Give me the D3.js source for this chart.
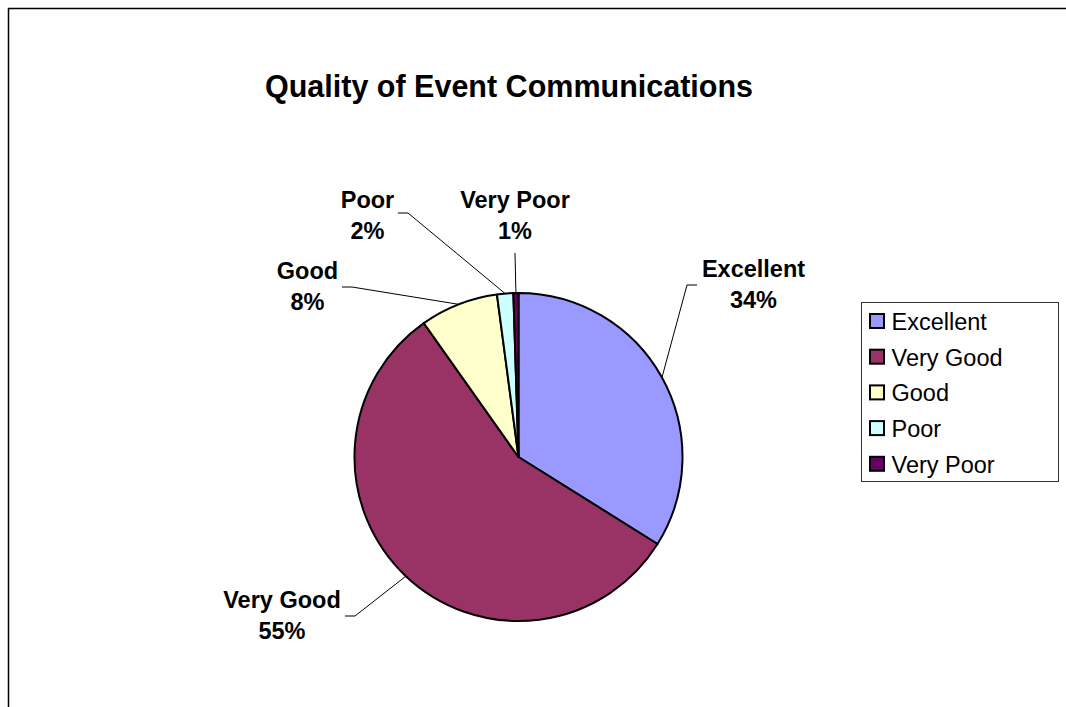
<!DOCTYPE html>
<html>
<head>
<meta charset="utf-8">
<script src="https://cdn.jsdelivr.net/npm/d3@7"></script>
<style>
  html, body { margin: 0; padding: 0; background: #fff; overflow: hidden; }
  #main { width: 1066px; height: 707px; overflow: hidden; }
  #main svg { display: block; }
  text { font-family: "Liberation Sans", Arial, sans-serif; }
</style>
</head>
<body>
<div id="main"></div>
<script>
// data
const categories = ["Excellent", "Very Good", "Good", "Poor", "Very Poor"];
const values = [33.9, 56.3, 7.7, 1.6, 0.5];
const pctLabels = ["34%", "55%", "8%", "2%", "1%"];
const colors = ["#9999FF", "#993366", "#FFFFCC", "#CCFFFF", "#660066"];

// label placement (layout only): text centre, first baseline, leader start, elbow direction
const labelLayout = [
    { x: 753.5, y: 277, lx: 697, ly: 285, dir: -1 },
    { x: 282, y: 608, lx: 345, ly: 616, dir: 1 },
    { x: 307.5, y: 279, lx: 342, ly: 287, dir: 1 },
    { x: 367.5, y: 208, lx: 398, ly: 213, dir: 1 },
    { x: 515, y: 208, lx: 515, ly: 253, dir: 0 }
];

function createChart() {
    d3.select("#main svg").remove();

    const width = 1066, height = 707;
    const cx = 518.5, cy = 457, radius = 164;

    const svg = d3.select("#main").append("svg")
        .attr("width", width)
        .attr("height", height);

    // outer frame: only top and left edges fall inside the view
    svg.append("path")
        .attr("d", `M8.5,${height + 10}V8.5H${width + 10}`)
        .attr("fill", "none")
        .attr("stroke", "#000")
        .attr("stroke-width", 1.5);

    // title
    svg.append("text")
        .attr("x", 509).attr("y", 97)
        .attr("text-anchor", "middle")
        .style("font-size", "30.5px")
        .style("font-weight", "bold")
        .text("Quality of Event Communications");

    const pie = d3.pie().sort(null).value(d => d);
    const arcs = pie(values);
    const arc = d3.arc().innerRadius(0).outerRadius(radius);

    const g = svg.append("g").attr("transform", `translate(${cx},${cy})`);

    g.selectAll("path")
        .data(arcs)
        .enter().append("path")
        .attr("d", arc)
        .attr("fill", (d, i) => colors[i])
        .attr("stroke", "#000")
        .attr("stroke-width", 2)
        .attr("stroke-linejoin", "round");

    // leader lines
    const rim = d3.arc().innerRadius(radius).outerRadius(radius);
    svg.append("g")
        .selectAll("polyline")
        .data(arcs)
        .enter().append("polyline")
        .attr("points", (d, i) => {
            const L = labelLayout[i];
            const c = rim.centroid(d);
            const px = cx + c[0], py = cy + c[1];
            const ex = L.lx + L.dir * 10;
            return [[L.lx, L.ly], [ex, L.ly], [px, py]].map(p => p.join(",")).join(" ");
        })
        .attr("fill", "none")
        .attr("stroke", "#000")
        .attr("stroke-width", 1);

    // data labels
    const lbl = svg.append("g")
        .selectAll("text")
        .data(arcs)
        .enter().append("text")
        .attr("text-anchor", "middle")
        .style("font-size", "23.5px")
        .style("font-weight", "bold");
    lbl.append("tspan")
        .attr("x", (d, i) => labelLayout[i].x)
        .attr("y", (d, i) => labelLayout[i].y)
        .text((d, i) => categories[i]);
    lbl.append("tspan")
        .attr("x", (d, i) => labelLayout[i].x)
        .attr("y", (d, i) => labelLayout[i].y + 31)
        .text((d, i) => pctLabels[i]);

    // legend
    const legend = svg.append("g");
    legend.append("rect")
        .attr("x", 861.5).attr("y", 302.5)
        .attr("width", 197).attr("height", 179)
        .attr("fill", "#fff")
        .attr("stroke", "#333")
        .attr("stroke-width", 1);

    const item = legend.selectAll("g.item")
        .data(categories)
        .enter().append("g")
        .attr("class", "item")
        .attr("transform", (d, i) => `translate(0,${330 + i * 35.7})`);
    item.append("rect")
        .attr("x", 870).attr("y", -16)
        .attr("width", 14).attr("height", 14)
        .attr("fill", (d, i) => colors[i])
        .attr("stroke", "#000")
        .attr("stroke-width", 2);
    item.append("text")
        .attr("x", 891.5).attr("y", 0)
        .style("font-size", "23.5px")
        .text(d => d);
}

document.addEventListener("DOMContentLoaded", function() {
    createChart();
});
</script>
</body>
</html>
